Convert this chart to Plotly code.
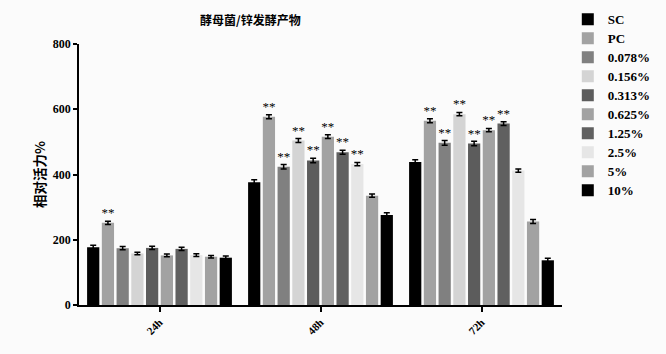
import plotly.graph_objects as go

groups = ["24h", "48h", "72h"]
series = ["SC", "PC", "0.078%", "0.156%", "0.313%", "0.625%", "1.25%", "2.5%", "5%", "10%"]
values = {
    "SC":     [177, 376, 438],
    "PC":     [252, 577, 565],
    "0.078%": [174, 424, 497],
    "0.156%": [158, 504, 585],
    "0.313%": [175, 443, 495],
    "0.625%": [152, 516, 536],
    "1.25%":  [172, 468, 556],
    "2.5%":   [153, 432, 412],
    "5%":     [148, 335, 256],
    "10%":    [145, 276, 137],
}
errors = {
    "SC":     [6, 8, 7],
    "PC":     [5, 6, 6],
    "0.078%": [5, 7, 7],
    "0.156%": [4, 6, 5],
    "0.313%": [5, 7, 7],
    "0.625%": [4, 6, 5],
    "1.25%":  [5, 6, 6],
    "2.5%":   [4, 5, 5],
    "5%":     [4, 5, 6],
    "10%":    [5, 7, 6],
}
marks = {
    "SC":     ["", "", ""],
    "PC":     ["**", "**", "**"],
    "0.078%": ["", "**", "**"],
    "0.156%": ["", "**", "**"],
    "0.313%": ["", "**", "**"],
    "0.625%": ["", "**", "**"],
    "1.25%":  ["", "**", "**"],
    "2.5%":   ["", "**", ""],
    "5%":     ["", "", ""],
    "10%":    ["", "", ""],
}
colors = ["#000000", "#a2a2a2", "#808080", "#d4d4d4", "#5c5c5c",
          "#a2a2a2", "#606060", "#e6e6e6", "#a2a2a2", "#000000"]

serif = "Liberation Serif"

fig = go.Figure()
for s, c in zip(series, colors):
    fig.add_trace(go.Bar(
        name="<span style='font-size:13px'>" + s + "</span>", x=groups, y=values[s],
        marker=dict(color=c, line=dict(width=0)),
        error_y=dict(type="data", array=errors[s], color="#000000", thickness=1.5, width=3),
        text=marks[s], textposition="outside", constraintext="none", cliponaxis=False,
        textfont=dict(family=serif, size=13, color="#000000"),
    ))

fig.update_layout(
    width=666, height=354,
    margin=dict(l=79, r=104, t=44, b=49, autoexpand=False),
    paper_bgcolor="#fbfbfb", plot_bgcolor="#fbfbfb",
    barmode="group", bargap=0.085, bargroupgap=0.17,
    font=dict(family=serif, color="#000000"),
    legend=dict(x=1.012, y=1.15, xanchor="left", yanchor="top",
                font=dict(family=serif, size=11, color="#000000", weight="bold"),
                tracegroupgap=0, itemwidth=30, bgcolor="rgba(0,0,0,0)",
                maxheight=330),
    annotations=[
        dict(text="<b>酵母菌/锌发酵产物</b>", xref="paper", yref="paper",
             x=0.356, y=1.092, xanchor="center", yanchor="middle", showarrow=False,
             font=dict(family="Noto Sans CJK SC", size=12, color="#000000")),
    ],
    yaxis=dict(
        range=[0, 800], tickvals=[0, 200, 400, 600, 800],
        showgrid=False, zeroline=False,
        showline=True, linecolor="#000000", linewidth=1.5,
        ticks="outside", ticklen=4, tickwidth=1.5, tickcolor="#000000",
        tickfont=dict(family=serif, size=12, weight="bold"),
        title=dict(text="<b>相对活力%</b>", font=dict(family="Noto Sans CJK SC", size=13.5), standoff=4),
    ),
    xaxis=dict(
        showgrid=False, zeroline=False,
        showline=True, linecolor="#000000", linewidth=1.5,
        ticks="outside", ticklen=5, tickwidth=1.5, tickcolor="#000000",
        tickangle=-45,
        tickfont=dict(family=serif, size=11, weight="bold"),
    ),
)

fig.write_html("out.html")
